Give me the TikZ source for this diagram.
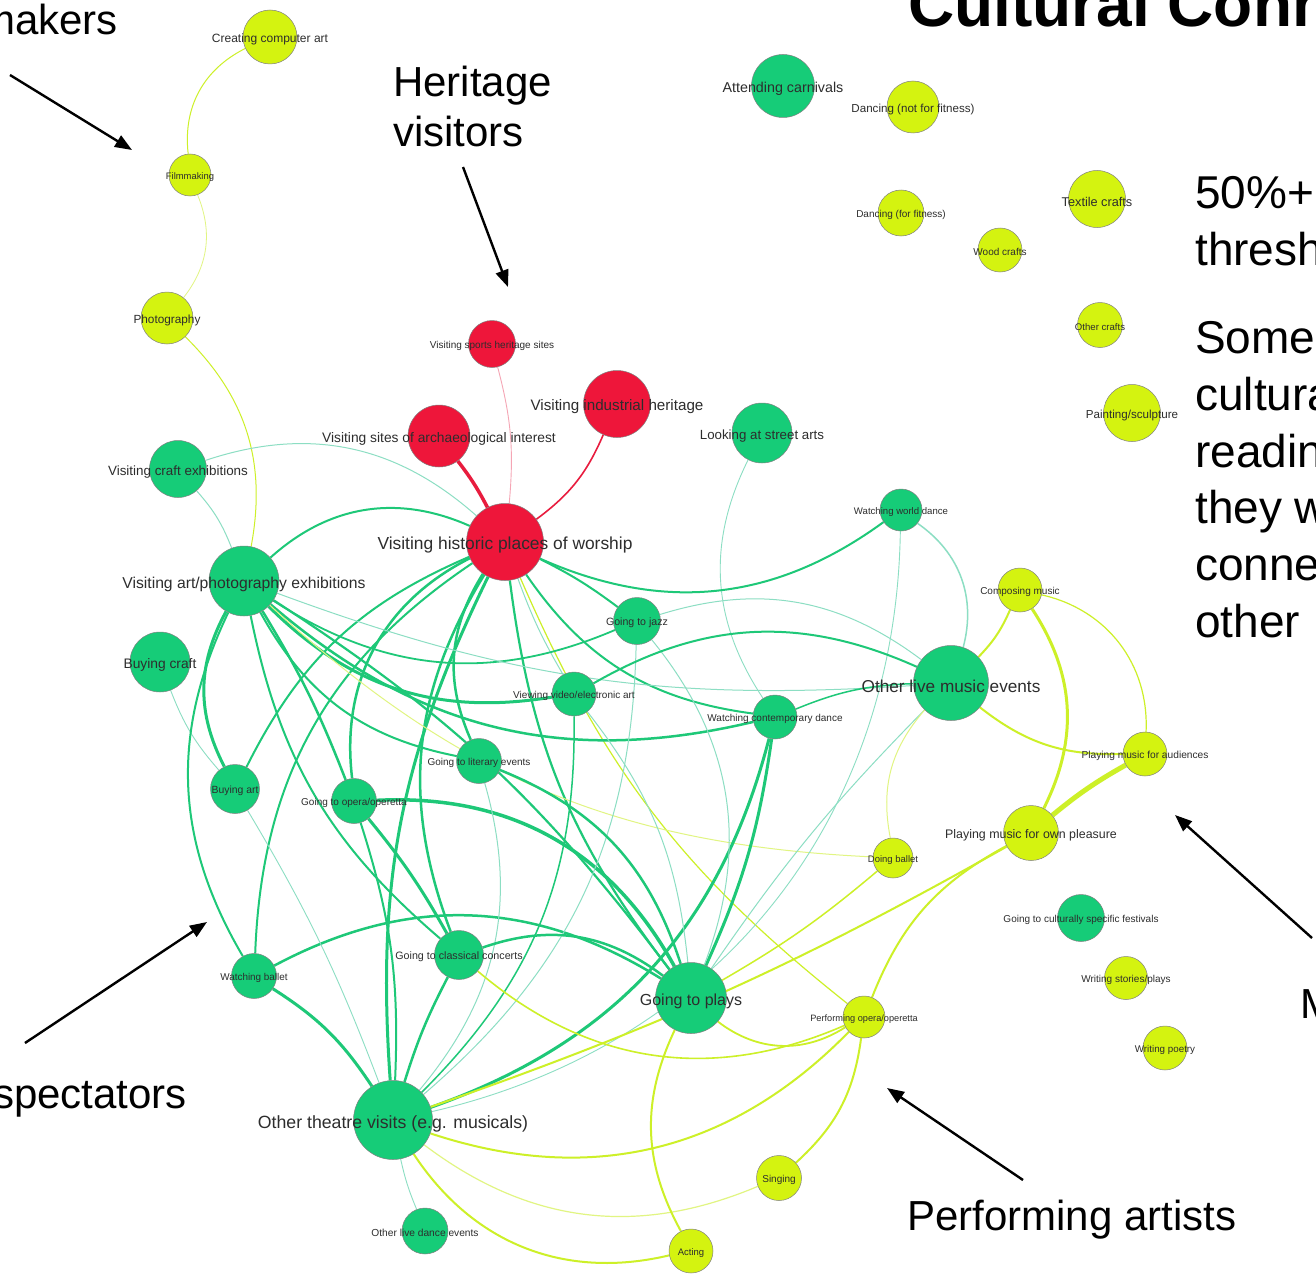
\documentclass[tikz,border=0pt]{standalone}
\usepackage{fontspec}
\setmainfont{Liberation Sans}
\usetikzlibrary{arrows.meta}
\pgfdeclarelayer{bgl}
\pgfdeclarelayer{edges}
\pgfsetlayers{bgl,edges,main}
\definecolor{ng}{RGB}{22,204,120}
\definecolor{ny}{RGB}{212,243,16}
\definecolor{nr}{RGB}{238,22,58}
\definecolor{eg}{RGB}{30,200,120}
\definecolor{ey}{RGB}{205,240,40}
\definecolor{eyl}{RGB}{225,245,130}
\definecolor{et}{RGB}{140,222,195}
\definecolor{er}{RGB}{232,28,62}
\definecolor{ep}{RGB}{245,165,180}
\definecolor{labc}{RGB}{45,45,45}
\tikzset{
  nd/.style={circle, inner sep=0pt, draw=black!50, line width=0.5pt, minimum size=#1pt},
  gn/.style={nd=#1, fill=ng},
  yn/.style={nd=#1, fill=ny},
  rn/.style={nd=#1, fill=nr},
  lb/.style={text=labc, inner sep=0pt, yshift=-0.2*#1, font=\fontsize{#1}{#1}\selectfont},
  gE/.style={draw=eg, line width=#1pt},
  yE/.style={draw=ey, line width=#1pt},
  yL/.style={draw=eyl, line width=#1pt},
  tE/.style={draw=et, line width=#1pt},
  rE/.style={draw=er, line width=#1pt},
  pE/.style={draw=ep, line width=#1pt},
  arr/.style={line width=2.4pt, -{Triangle[length=17pt,width=13pt]}},
  big/.style={anchor=base west, inner sep=0pt, font=\fontsize{42}{48}\selectfont},
  side/.style={anchor=base west, inner sep=0pt, font=\fontsize{46}{52}\selectfont}
}
\begin{document}
\begin{tikzpicture}[x=1pt,y=1pt]
\useasboundingbox (0,0) rectangle (1316,-1276);
\begin{pgfonlayer}{bgl}
\fill[white] (0,0) rectangle (1316,-1276);
\end{pgfonlayer}
\clip (0,0) rectangle (1316,-1276);

% ---- nodes ----
\node[yn=54] (cca) at (270,-37) {};
\node[yn=42] (film) at (190,-175) {};
\node[yn=52] (photo) at (167,-318) {};
\node[rn=47] (vshs) at (492,-344) {};
\node[rn=67] (vih) at (617,-404) {};
\node[rn=62] (vsai) at (439,-436) {};
\node[gn=60] (lsa) at (762,-433) {};
\node[gn=63] (carn) at (783,-86) {};
\node[yn=52] (dnf) at (913,-107) {};
\node[yn=46] (dff) at (901,-213) {};
\node[yn=44] (wood) at (1000,-250) {};
\node[yn=57] (textc) at (1097,-199) {};
\node[yn=45] (ocr) at (1100,-325) {};
\node[yn=57] (paint) at (1132,-413) {};
\node[gn=57] (vce) at (178,-469) {};
\node[gn=70] (art) at (244,-581) {};
\node[gn=60] (bcr) at (160,-662) {};
\node[gn=49] (bart) at (235,-789) {};
\node[gn=45] (opera) at (354,-801) {};
\node[rn=77] (hist) at (505,-542) {};
\node[gn=47] (jazz) at (637,-621) {};
\node[gn=44] (video) at (574,-694) {};
\node[gn=44] (cdance) at (775,-717) {};
\node[gn=45] (lit) at (479,-761) {};
\node[gn=42] (wwd) at (901,-510) {};
\node[yn=44] (comp) at (1020,-590) {};
\node[gn=75] (olm) at (951,-683) {};
\node[yn=44] (pma) at (1145,-754) {};
\node[yn=55] (pmo) at (1031,-833) {};
\node[yn=40] (dball) at (893,-858) {};
\node[gn=47] (fest) at (1081,-918) {};
\node[yn=43] (wsp) at (1126,-978) {};
\node[yn=44] (wpo) at (1165,-1048) {};
\node[yn=42] (popera) at (864,-1017) {};
\node[gn=49] (class) at (459,-955) {};
\node[gn=71] (plays) at (691,-998) {};
\node[yn=45] (sing) at (779,-1178) {};
\node[yn=44] (acting) at (691,-1251) {};
\node[gn=46] (oldance) at (425,-1231) {};
\node[gn=79] (theatre) at (393,-1120) {};
\node[gn=45] (wball) at (254,-976) {};

% ---- labels ----
\node[lb=12] (cca-t) at (cca) {Creating computer art};
\node[lb=9.4] (film-t) at (film) {Filmmaking};
\node[lb=11.8] (photo-t) at (photo) {Photography};
\node[lb=10] (vshs-t) at (vshs) {Visiting sports heritage sites};
\node[lb=15.2] (vih-t) at (vih) {Visiting industrial heritage};
\node[lb=13.8] (vsai-t) at (vsai) {Visiting sites of archaeological interest};
\node[lb=13.3] (lsa-t) at (lsa) {Looking at street arts};
\node[lb=14.3] (carn-t) at (carn) {Attending carnivals};
\node[lb=11.6] (dnf-t) at (dnf) {Dancing (not for fitness)};
\node[lb=10] (dff-t) at (dff) {Dancing (for fitness)};
\node[lb=10] (wood-t) at (wood) {Wood crafts};
\node[lb=12.7] (textc-t) at (textc) {Textile crafts};
\node[lb=9.6] (ocr-t) at (ocr) {Other crafts};
\node[lb=11.6] (paint-t) at (paint) {Painting/sculpture};
\node[lb=13.4] (vce-t) at (vce) {Visiting craft exhibitions};
\node[lb=15.7] (art-t) at (art) {Visiting art/photography exhibitions};
\node[lb=13.8] (bcr-t) at (bcr) {Buying craft};
\node[lb=10.4] (bart-t) at (bart) {Buying art};
\node[lb=10] (opera-t) at (opera) {Going to opera/operetta};
\node[lb=17.4] (hist-t) at (hist) {Visiting historic places of worship};
\node[lb=10.6] (jazz-t) at (jazz) {Going to jazz};
\node[lb=10] (video-t) at (video) {Viewing video/electronic art};
\node[lb=10] (cdance-t) at (cdance) {Watching contemporary dance};
\node[lb=10] (lit-t) at (lit) {Going to literary events};
\node[lb=9.6] (wwd-t) at (wwd) {Watching world dance};
\node[lb=10] (comp-t) at (comp) {Composing music};
\node[lb=17.2] (olm-t) at (olm) {Other live music events};
\node[lb=10.2] (pma-t) at (pma) {Playing music for audiences};
\node[lb=12.4] (pmo-t) at (pmo) {Playing music for own pleasure};
\node[lb=9.5] (dball-t) at (dball) {Doing ballet};
\node[lb=10] (fest-t) at (fest) {Going to culturally specific festivals};
\node[lb=10] (wsp-t) at (wsp) {Writing stories/plays};
\node[lb=9.8] (wpo-t) at (wpo) {Writing poetry};
\node[lb=9.2] (popera-t) at (popera) {Performing opera/operetta};
\node[lb=10.7] (class-t) at (class) {Going to classical concerts};
\node[lb=16] (plays-t) at (plays) {Going to plays};
\node[lb=10] (sing-t) at (sing) {Singing};
\node[lb=9.5] (acting-t) at (acting) {Acting};
\node[lb=10.2] (oldance-t) at (oldance) {Other live dance events};
\node[lb=17.7] (theatre-t) at (theatre) {Other theatre visits (e.g. musicals)};
\node[lb=9.9] (wball-t) at (wball) {Watching ballet};

% ---- edges ----
\begin{pgfonlayer}{edges}
% heritage
\draw[rE=3.5] (vsai) to[bend left=5] (hist);
\draw[rE=1.6] (vih) to[bend left=15] (hist);
\draw[pE=0.9] (vshs) to[bend left=10] (hist);
% makers
\draw[yE=1] (cca) to[bend right=35] (film);
\draw[yL=0.8] (film) to[bend left=30] (photo);
\draw[yE=1] (photo) to[bend left=28] (art);
% thin teal
\draw[tE=1] (vce) to[bend left=30] (hist);
\draw[tE=1] (vce) to[bend left=10] (art);
\draw[tE=0.9] (bcr) to[bend right=10] (bart);
\draw[tE=0.9] (lsa) to[bend right=30] (cdance);
% hist hub
\draw[gE=2] (art) to[bend left=33] (hist);
\draw[gE=2] (hist) to[bend right=30] (wwd);
\draw[gE=2] (hist) to[bend left=5] (jazz);
\draw[gE=2] (hist) to[bend right=24] (cdance);
\draw[tE=1] (hist) to[bend right=5] (video);
\draw[gE=2.5] (hist) to[bend right=28] (lit);
\draw[gE=3] (hist) to[bend right=15] (theatre);
\draw[gE=2.5] (hist) to[bend right=26] (class);
\draw[gE=2.5] (hist) to[bend right=35] (opera);
\draw[gE=2] (hist) to[bend right=20] (bart);
\draw[gE=2] (hist) to[bend right=27] (wball);
\draw[gE=2.2] (hist) to[bend right=15] (plays);
\draw[yE=1.2] (hist) to[bend right=14] (popera);
% art hub
\draw[gE=1.8] (art) to[bend right=28] (jazz);
\draw[gE=3] (art) to[bend right=27] (video);
\draw[gE=2.5] (art) to[bend right=27] (cdance);
\draw[tE=1] (art) to[bend right=12] (olm);
\draw[yL=1] (art) to[bend right=20] (dball);
\draw[gE=2] (art) to[bend right=25] (lit);
\draw[gE=2.5] (art) to[bend left=5] (opera);
\draw[gE=3] (art) to[bend right=28] (bart);
\draw[gE=2] (art) to[bend right=28] (wball);
\draw[gE=2] (art) to[bend right=19] (class);
\draw[gE=2.2] (art) to[bend left=10] (plays);
% opera, ballet, buying art
\draw[gE=3.5] (opera) to[bend left=32] (plays);
\draw[gE=3] (opera) to[bend left=5] (class);
\draw[gE=2] (opera) to[bend left=10] (theatre);
\draw[gE=3] (wball) to[bend left=12] (theatre);
\draw[gE=2.5] (wball) to[bend left=30] (plays);
\draw[tE=0.9] (bart) to[bend left=5] (theatre);
% theatre hub
\draw[gE=3] (theatre) to[bend right=28] (cdance);
\draw[gE=2.5] (theatre) to[bend left=5] (class);
\draw[tE=1] (lit) to[bend left=28] (theatre);
\draw[gE=1.5] (video) to[bend left=23] (theatre);
\draw[tE=1] (jazz) to[bend left=24] (theatre);
\draw[tE=0.9] (wwd) to[bend left=38] (theatre);
\draw[tE=0.9] (theatre) to[bend right=5] (oldance);
\draw[yE=2] (theatre) to[bend right=5] (pmo);
\draw[yE=2] (theatre) to[bend right=32] (popera);
\draw[yL=1.2] (theatre) to[bend right=30] (sing);
\draw[yE=2] (theatre) to[bend right=35] (acting);
% plays hub
\draw[gE=3] (cdance) to[bend left=8] (plays);
\draw[gE=2.5] (lit) to[bend left=25] (plays);
\draw[tE=1] (jazz) to[bend left=30] (plays);
\draw[tE=1] (video) to[bend left=16] (plays);
\draw[tE=1] (olm) to[bend right=5] (plays);
\draw[gE=2.5] (class) to[bend left=28] (plays);
\draw[yE=1.8] (plays) to[bend right=35] (popera);
\draw[yE=2] (plays) to[bend right=27] (acting);
\draw[yE=1.5] (dball) to[bend left=5] (plays);
\draw[yE=1.6] (class) to[bend right=32] (popera);
% other live music
\draw[tE=1] (jazz) to[bend left=27] (olm);
\draw[gE=2] (video) to[bend left=27] (olm);
\draw[gE=1.5] (cdance) to[bend left=10] (olm);
\draw[tE=1.5] (wwd) to[bend left=35] (olm);
\draw[yE=2] (olm) to[bend right=10] (comp);
\draw[yE=2] (olm) to[bend right=20] (pma);
\draw[yL=1] (olm) to[bend right=26] (dball);
% music makers
\draw[yE=3] (comp) to[bend left=30] (pmo);
\draw[yE=1.2] (comp) to[bend left=40] (pma);
\draw[yE=5] (pma) to[bend right=5] (pmo);
\draw[yE=2] (pmo) to[bend right=20] (popera);
\draw[yE=2] (popera) to[bend left=20] (sing);
\end{pgfonlayer}

% ---- annotations ----
\node[anchor=base west, inner sep=0pt, font=\fontsize{64}{70}\selectfont\bfseries] (title) at (908,-27) {Cultural Connections};
\node[side] (s1) at (1195,-208) {50\%+};
\node[side] (s2) at (1195,-265) {threshold};
\node[side] (s3) at (1195,-353) {Some};
\node[side] (s4) at (1195,-410) {cultural};
\node[side] (s5) at (1195,-467) {reading};
\node[side] (s6) at (1195,-523) {they were};
\node[side] (s7) at (1195,-580) {connected};
\node[side] (s8) at (1195,-637) {other};

\node[big, anchor=base east] (makers) at (118,-35) {makers};
\node[big] (herit1) at (393,-97) {Heritage};
\node[big] (herit2) at (393,-147) {visitors};
\node[big, anchor=base east] (spect) at (187,-1108) {spectators};
\node[big] (perf) at (907,-1230) {Performing artists};
\node[big] (mus) at (1300,-1018) {Music};

\coordinate (a1s) at (10,-75);   \coordinate (a1e) at (132,-150);
\coordinate (a2s) at (463,-167); \coordinate (a2e) at (508,-287);
\coordinate (a3s) at (25,-1043); \coordinate (a3e) at (207,-922);
\coordinate (a4s) at (1023,-1180); \coordinate (a4e) at (887,-1088);
\coordinate (a5s) at (1312,-938); \coordinate (a5e) at (1175,-815);
\draw[arr] (a1s) -- (a1e);
\draw[arr] (a2s) -- (a2e);
\draw[arr] (a3s) -- (a3e);
\draw[arr] (a4s) -- (a4e);
\draw[arr] (a5s) -- (a5e);
\end{tikzpicture}
\end{document}
